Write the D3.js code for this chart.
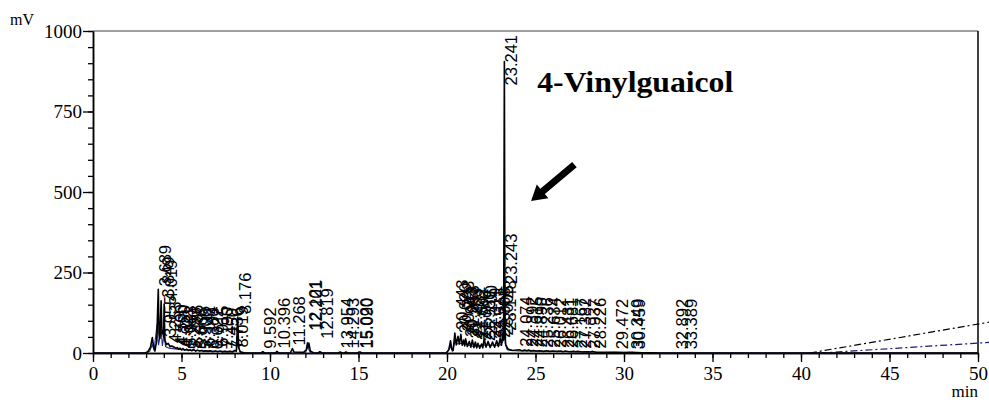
<!DOCTYPE html>
<html>
<head>
<meta charset="utf-8">
<script src="https://cdn.jsdelivr.net/npm/d3@7"></script>
<style>
  body { margin: 0; background: #fff; }
  svg { display: block; }
</style>
</head>
<body>
<svg id="chart" width="989" height="403"></svg>
<script>
// detector signal, black run (min, mV)
var blackTrace = [
  [0,0],[2.95,0],[3.1,4],[3.25,18],[3.35,48],[3.42,22],[3.5,6],[3.6,40],[3.689,198],[3.73,60],[3.78,45],
  [3.849,162],[3.9,60],[3.955,70],[3.99,50],[4.019,152],[4.06,40],[4.15,26],[4.253,30],[4.35,20],[4.45,22],
  [4.59,18],[4.68,14],[4.75,17],[4.85,12],[4.921,15],[5.0,10],[5.083,14],[5.18,9],[5.29,12],[5.38,8],
  [5.486,10],[5.58,7],[5.688,11],[5.8,6],[5.906,9],[6.02,6],[6.142,8],[6.26,5],[6.38,7],[6.5,5],
  [6.622,7],[6.76,4],[6.915,6],[7.05,4],[7.19,6],[7.32,3],[7.45,5],[7.6,3],[7.736,5],[7.88,3],[8.019,8],
  [8.1,6],[8.176,112],[8.23,16],[8.32,4],[8.5,1],[8.8,0],
  [9.5,0],[9.592,4],[9.7,0],[10.3,0],[10.396,5],[10.5,0],[11.15,0],[11.268,14],[11.35,3],[11.9,2],
  [12.05,10],[12.121,32],[12.16,18],[12.201,30],[12.28,6],[12.45,1],[12.7,0],[12.819,4],[12.95,0],
  [13.85,0],[13.954,3],[14.1,0],[14.2,0],[14.293,3],[14.4,0],[14.95,0],[15.02,3],[15.09,3],[15.2,0],
  [19.95,0],[20.1,10],[20.2,38],[20.27,12],[20.35,8],[20.443,62],[20.52,25],[20.62,52],[20.7,28],
  [20.783,58],[20.86,24],[20.943,40],[21.0,22],[21.053,44],[21.15,20],[21.263,36],[21.35,18],[21.431,40],
  [21.52,17],[21.602,34],[21.68,16],[21.746,30],[21.85,15],[21.95,28],[22.02,16],[22.1,45],[22.2,18],
  [22.319,36],[22.44,17],[22.571,34],[22.69,18],[22.808,38],[22.9,20],[23.005,45],[23.08,24],[23.148,60],
  [23.2,40],[23.241,905],[23.275,60],[23.32,25],[23.45,12],[23.7,8],[24.074,10],[24.25,7],[24.392,9],
  [24.5,7],[24.615,9],[24.75,6],[24.89,8],[25.05,6],[25.236,7],[25.45,5],[25.634,7],[25.8,5],[26.012,6],
  [26.2,5],[26.431,6],[26.55,4],[26.681,6],[26.9,4],[27.167,5],[27.28,4],[27.382,5],[27.65,3],[27.937,4],
  [28.1,3],[28.226,5],[28.4,2],[28.8,1.5],[29.472,2],[30.0,1.5],[30.349,2],[30.459,2],[31.0,1],[31.6,1],
  [32.0,0],[50,0]
];

// second run, drawn in blue
var blueTrace = [
  [0,0],[2.95,0],[3.2,5],[3.35,26],[3.45,8],[3.62,90],[3.7,24],[3.85,70],[3.92,22],[4.02,60],[4.1,20],
  [4.3,15],[5,10],[6,7],[7,5],[8.1,6],[8.17,40],[8.3,3],[8.8,0],[12.0,0],[12.12,18],[12.3,0],
  [20.0,0],[20.2,20],[20.3,6],[20.45,35],[20.6,28],[20.8,30],[21.5,20],[22.1,25],[23.0,24],[23.15,35],
  [23.243,205],[23.29,30],[23.4,10],[24,6],[28.3,3],[31.6,1],[32,0],[50,0]
];

// gradient / drift lines at the end of the run
var blackDrift = [[40.5,0],[50.65,96]];
var blueDrift  = [[41.1,0],[50.65,33]];

// peak table: retention time (min) and apex height used for the label (mV)
var peakTimes = [
  3.689, 3.849, 4.019, 3.955, 4.253, 4.590, 4.750, 4.921, 5.083, 5.290, 5.486, 5.688, 5.906, 6.142,
  6.380, 6.622, 6.915, 7.190, 7.450, 7.736, 8.019, 8.176, 9.592, 10.396, 11.268, 12.121, 12.201, 12.819,
  13.954, 14.293, 15.020, 15.090,
  20.443, 20.620, 20.783, 20.943, 21.053, 21.263, 21.431, 21.602, 21.746, 21.950, 22.100, 22.319,
  22.571, 22.808, 23.005, 23.148, 23.241, 23.243,
  24.074, 24.392, 24.615, 24.890, 25.236, 25.634, 26.012, 26.431, 26.681, 27.167, 27.382, 27.937,
  28.226, 29.472, 30.349, 30.459, 32.892, 33.389
];
var peakHeights = [
  198, 162, 152, 40, 22, 14, 12, 6, 10, 2, 12, 6, 2, 10,
  4, 2, 10, 6, 2, 4, 8, 112, 4, 5, 14, 62, 60, 35,
  5, 5, 5, 5,
  62, 52, 58, 40, 44, 36, 40, 34, 30, 28, 45, 36,
  34, 38, 45, 60, 905, 205,
  10, 9, 9, 8, 7, 7, 6, 6, 6, 5, 5, 4,
  5, 2, 2, 2, 2, 2
];

var xTicks = [0, 5, 10, 15, 20, 25, 30, 35, 40, 45, 50];
var yTicks = [0, 250, 500, 750, 1000];

var svg = d3.select('#chart');
var W = 989, H = 403;
var margin = { top: 31, right: 11, bottom: 50, left: 93 };

var x = d3.scaleLinear().domain([0, 50]).range([margin.left, W - margin.right]);
var y = d3.scaleLinear().domain([0, 1000]).range([H - margin.bottom, margin.top]);

var serif = '"Liberation Serif", "Times New Roman", serif';
var narrow = '"Liberation Sans Narrow", "Liberation Sans", Arial, sans-serif';

/**
 * Frame
 */
svg.append('line')
  .attr('x1', x(0)).attr('x2', x(50))
  .attr('y1', y(1000)).attr('y2', y(1000))
  .attr('stroke', '#7f7f7f').attr('stroke-width', 1.5);

svg.append('line')
  .attr('x1', x(50)).attr('x2', x(50))
  .attr('y1', y(1000)).attr('y2', y(0))
  .attr('stroke', '#000').attr('stroke-width', 1.5);

/**
 * Axes (major ticks labelled, minor ones bare)
 */
var xMinor = svg.append('g')
  .attr('transform', 'translate(0,' + y(0) + ')')
  .call(d3.axisBottom(x).tickValues(d3.range(0, 51, 1)).tickSize(5).tickSizeOuter(0).tickFormat(''));

var xMajor = svg.append('g')
  .attr('transform', 'translate(0,' + y(0) + ')')
  .call(d3.axisBottom(x).tickValues(xTicks).tickSize(9).tickSizeOuter(0).tickPadding(5)
    .tickFormat(d3.format('d')));

var yMinor = svg.append('g')
  .attr('transform', 'translate(' + x(0) + ',0)')
  .call(d3.axisLeft(y).tickValues(d3.range(0, 1001, 50)).tickSize(5).tickSizeOuter(0).tickFormat(''));

var yMajor = svg.append('g')
  .attr('transform', 'translate(' + x(0) + ',0)')
  .call(d3.axisLeft(y).tickValues(yTicks).tickSize(10).tickSizeOuter(0).tickPadding(1)
    .tickFormat(d3.format('d')));

[xMinor, xMajor, yMinor, yMajor].forEach(function (g) {
  g.select('.domain').attr('stroke', '#000').attr('stroke-width', 1.5);
  g.selectAll('.tick line').attr('stroke', '#000').attr('stroke-width', 1.3);
  g.selectAll('.tick text')
    .attr('fill', '#000')
    .style('font-family', serif)
    .style('font-size', '19px');
});

svg.append('text')
  .attr('x', 10).attr('y', 25)
  .style('font-family', serif).style('font-size', '16px')
  .text('mV');

svg.append('text')
  .attr('x', x(50)).attr('y', 397)
  .attr('text-anchor', 'end')
  .style('font-family', serif).style('font-size', '17px')
  .text('min');

/**
 * Traces
 */
var drawTrace = d3.line()
  .x(function (d) { return x(d[0]); })
  .y(function (d) { return y(d[1]); });

svg.append('path')
  .datum(blackDrift)
  .attr('d', drawTrace)
  .attr('fill', 'none').attr('stroke', '#000').attr('stroke-width', 1.2)
  .attr('stroke-dasharray', '7,3,2,3');

svg.append('path')
  .datum(blueDrift)
  .attr('d', drawTrace)
  .attr('fill', 'none').attr('stroke', '#1a1a7a').attr('stroke-width', 1.2)
  .attr('stroke-dasharray', '7,3,2,3');

svg.append('path')
  .datum(blueTrace)
  .attr('d', drawTrace)
  .attr('fill', 'none').attr('stroke', '#1f2a8a').attr('stroke-width', 1.1);

svg.append('path')
  .datum(blackTrace)
  .attr('d', drawTrace)
  .attr('fill', 'none').attr('stroke', '#000').attr('stroke-width', 1.6)
  .attr('stroke-linejoin', 'round');

/**
 * Peak labels, rotated, sitting on each apex
 */
var peaks = peakTimes.map(function (t, i) {
  return { time: t, height: peakHeights[i] };
});

var labels = svg.append('g')
  .attr('class', 'peak-labels')
  .selectAll('text')
  .data(peaks)
  .enter()
  .append('text')
  .text(function (d) { return d.time.toFixed(3); })
  .style('font-family', narrow)
  .style('font-size', '16.5px')
  .attr('fill', '#000');

labels.attr('transform', function (d) {
  var len = this.getComputedTextLength();
  var base = Math.max(y(d.height) - 3, y(1000) + 4 + len);
  return 'translate(' + (x(d.time) + 13) + ',' + base + ')rotate(-90)';
});

/**
 * Annotation
 */
var title = svg.append('text')
  .attr('x', x(25.1)).attr('y', 92)
  .style('font-family', serif)
  .style('font-size', '30px')
  .style('font-weight', 'bold')
  .text('4-Vinylguaicol');
// squeeze to the width it takes in the source figure
title.attr('textLength', 196).attr('lengthAdjust', 'spacingAndGlyphs');

var a0 = [x(27.2), y(585)], a1 = [x(24.75), y(472)];
var ang = Math.atan2(a1[1] - a0[1], a1[0] - a0[0]);
var headLen = 15, headHalf = 9, shaftHalf = 3.5;
function pt(base, along, across) {
  return [
    base[0] + along * Math.cos(ang) - across * Math.sin(ang),
    base[1] + along * Math.sin(ang) + across * Math.cos(ang)
  ];
}
var shaftEnd = pt(a1, -headLen, 0);
var arrowPts = [
  pt(a0, 0, -shaftHalf), pt(shaftEnd, 0, -shaftHalf), pt(shaftEnd, 0, -headHalf), a1,
  pt(shaftEnd, 0, headHalf), pt(shaftEnd, 0, shaftHalf), pt(a0, 0, shaftHalf)
];
svg.append('path')
  .attr('d', 'M' + arrowPts.map(function (p) { return p.join(','); }).join('L') + 'Z')
  .attr('fill', '#000');
</script>
</body>
</html>
